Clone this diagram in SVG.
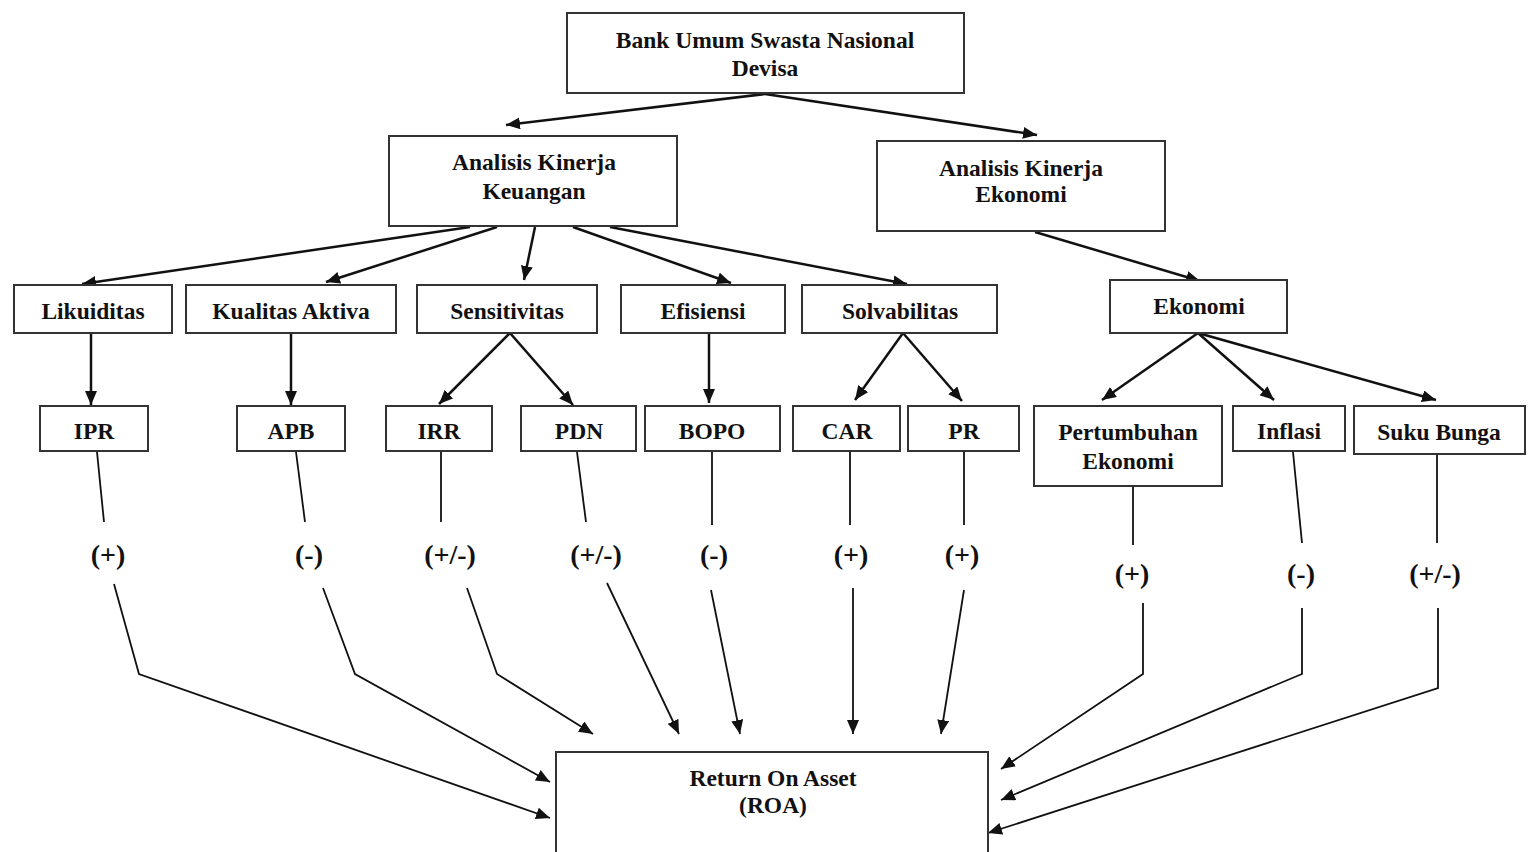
<svg xmlns="http://www.w3.org/2000/svg" width="1528" height="852" viewBox="0 0 1528 852">
<style>
rect{fill:#fff;stroke:#333;stroke-width:2}
text{font-family:"Liberation Serif","Times New Roman",serif;font-weight:bold;font-size:23.5px;fill:#111;text-anchor:middle}
.lbl{font-size:28px}
.c{fill:none;stroke:#111;stroke-width:2.5}
.t{fill:none;stroke:#111;stroke-width:1.8}
.a{marker-end:url(#ah)}
</style>
<defs>
<marker id="ah" viewBox="0 0 14 12" refX="14" refY="6" markerWidth="14" markerHeight="12" markerUnits="userSpaceOnUse" orient="auto">
<path d="M0,0 L14,6 L0,12 z" fill="#111"/>
</marker>
</defs>
<rect x="0" y="0" width="1528" height="852" style="fill:#fff;stroke:none"/>
<g id="connectors">
<line class="c a" x1="765" y1="94" x2="506" y2="125"/>
<line class="c a" x1="765" y1="94" x2="1037" y2="135"/>
<line class="c a" x1="470" y1="227" x2="82" y2="284"/>
<line class="c a" x1="497" y1="227" x2="326" y2="282"/>
<line class="c a" x1="535" y1="227" x2="524" y2="280"/>
<line class="c a" x1="573" y1="227" x2="731" y2="283"/>
<line class="c a" x1="610" y1="227" x2="907" y2="284"/>
<line class="c a" x1="1035" y1="232" x2="1200" y2="281"/>
<line class="c a" x1="91" y1="333" x2="91" y2="405"/>
<line class="c a" x1="291" y1="333" x2="291" y2="405"/>
<line class="c a" x1="510" y1="333" x2="439" y2="404"/>
<line class="c a" x1="510" y1="333" x2="573" y2="405"/>
<line class="c a" x1="709" y1="333" x2="709" y2="403"/>
<line class="c a" x1="903" y1="333" x2="855" y2="400"/>
<line class="c a" x1="903" y1="333" x2="962" y2="401"/>
<line class="c a" x1="1198" y1="333" x2="1102" y2="400"/>
<line class="c a" x1="1198" y1="333" x2="1274" y2="400"/>
<line class="c a" x1="1198" y1="333" x2="1436" y2="400"/>
<line class="t" x1="97" y1="452" x2="104" y2="522"/>
<line class="t" x1="296" y1="452" x2="305" y2="522"/>
<line class="t" x1="441" y1="452" x2="441" y2="522"/>
<line class="t" x1="577" y1="452" x2="586" y2="522"/>
<line class="t" x1="712" y1="452" x2="712" y2="525"/>
<line class="t" x1="850" y1="452" x2="850" y2="525"/>
<line class="t" x1="964" y1="452" x2="964" y2="525"/>
<line class="t" x1="1133" y1="487" x2="1133" y2="545"/>
<line class="t" x1="1293" y1="452" x2="1302" y2="543"/>
<line class="t" x1="1437" y1="455" x2="1437" y2="543"/>
<polyline class="t a" points="114,584 139,674 550,818"/>
<polyline class="t a" points="323,588 355,674 550,782"/>
<polyline class="t a" points="467,588 497,674 593,734"/>
<polyline class="t a" points="607,583 679,734"/>
<polyline class="t a" points="711,590 740,734"/>
<polyline class="t a" points="853,588 853,734"/>
<polyline class="t a" points="964,590 941,734"/>
<polyline class="t a" points="1143,603 1143,674 1001,769"/>
<polyline class="t a" points="1302,608 1302,674 1001,800"/>
<polyline class="t a" points="1438,608 1438,688 988,833"/>
<text class="lbl" x="108" y="564">(+)</text>
<text class="lbl" x="309" y="564">(-)</text>
<text class="lbl" x="450" y="564">(+/-)</text>
<text class="lbl" x="596" y="564">(+/-)</text>
<text class="lbl" x="714" y="564">(-)</text>
<text class="lbl" x="851" y="564">(+)</text>
<text class="lbl" x="962" y="564">(+)</text>
<text class="lbl" x="1132" y="583">(+)</text>
<text class="lbl" x="1301" y="583">(-)</text>
<text class="lbl" x="1435" y="583">(+/-)</text>
</g>
<g id="bank"><rect x="567" y="13" width="397" height="80"/><text x="765" y="48">Bank Umum Swasta Nasional</text><text x="765" y="76">Devisa</text></g>
<g id="keuangan"><rect x="389" y="136" width="288" height="90"/><text x="534" y="170">Analisis Kinerja</text><text x="534" y="199">Keuangan</text></g>
<g id="ekonomi-analisis"><rect x="877" y="141" width="288" height="90"/><text x="1021" y="176">Analisis Kinerja</text><text x="1021" y="202">Ekonomi</text></g>
<g id="likuiditas"><rect x="14" y="285" width="158" height="48"/><text x="93" y="319">Likuiditas</text></g>
<g id="kualitas"><rect x="186" y="285" width="210" height="48"/><text x="291" y="319">Kualitas Aktiva</text></g>
<g id="sensitivitas"><rect x="417" y="285" width="180" height="48"/><text x="507" y="319">Sensitivitas</text></g>
<g id="efisiensi"><rect x="621" y="285" width="164" height="48"/><text x="703" y="319">Efisiensi</text></g>
<g id="solvabilitas"><rect x="802" y="285" width="195" height="48"/><text x="900" y="319">Solvabilitas</text></g>
<g id="ekonomi"><rect x="1110" y="280" width="177" height="53"/><text x="1199" y="314">Ekonomi</text></g>
<g id="ipr"><rect x="40" y="406" width="108" height="45"/><text x="94" y="439">IPR</text></g>
<g id="apb"><rect x="237" y="406" width="108" height="45"/><text x="291" y="439">APB</text></g>
<g id="irr"><rect x="386" y="406" width="106" height="45"/><text x="439" y="439">IRR</text></g>
<g id="pdn"><rect x="521" y="406" width="115" height="45"/><text x="579" y="439">PDN</text></g>
<g id="bopo"><rect x="645" y="406" width="135" height="45"/><text x="712" y="439">BOPO</text></g>
<g id="car"><rect x="793" y="406" width="107" height="45"/><text x="847" y="439">CAR</text></g>
<g id="pr"><rect x="908" y="406" width="111" height="45"/><text x="964" y="439">PR</text></g>
<g id="pertumbuhan"><rect x="1034" y="406" width="188" height="80"/><text x="1128" y="440">Pertumbuhan</text><text x="1128" y="469">Ekonomi</text></g>
<g id="inflasi"><rect x="1233" y="406" width="112" height="45"/><text x="1289" y="439">Inflasi</text></g>
<g id="sukubunga"><rect x="1354" y="406" width="171" height="48"/><text x="1439" y="440">Suku Bunga</text></g>
<g id="roa"><rect x="556" y="752" width="432" height="110"/><text x="773" y="786">Return On Asset</text><text x="773" y="813">(ROA)</text></g>
</svg>
